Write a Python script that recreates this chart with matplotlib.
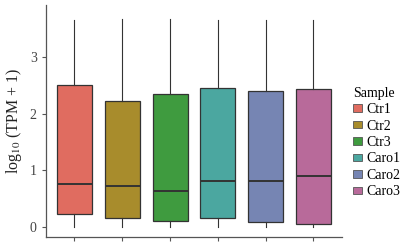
import matplotlib.pyplot as plt
from matplotlib.patches import Patch

plt.rcParams["font.family"] = ["Liberation Serif", "DejaVu Serif"]
plt.rcParams["mathtext.fontset"] = "stix"

samples = ["Ctr1", "Ctr2", "Ctr3", "Caro1", "Caro2", "Caro3"]
colors = ["#E06C60", "#A88C2C", "#3F9B3F", "#4BA7A0", "#7685B3", "#B86A9A"]
q1 = [0.23, 0.15, 0.11, 0.15, 0.08, 0.05]
median = [0.76, 0.73, 0.64, 0.81, 0.81, 0.90]
q3 = [2.51, 2.23, 2.35, 2.46, 2.41, 2.45]
whislo = [0, 0, 0, 0, 0, 0]
whishi = [3.66, 3.68, 3.68, 3.67, 3.67, 3.67]

stats = []
for i in range(len(samples)):
    stats.append({"label": samples[i], "q1": q1[i], "med": median[i], "q3": q3[i],
                  "whislo": whislo[i], "whishi": whishi[i], "fliers": []})

fig = plt.figure(figsize=(4.02, 2.47), dpi=100)
ax = fig.add_axes([0.114, 0.040, 0.737, 0.94])

bp = ax.bxp(stats, positions=range(1, 7), widths=0.73, patch_artist=True,
            showcaps=False,
            boxprops=dict(edgecolor="#333333", linewidth=0.9),
            medianprops=dict(color="#333333", linewidth=1.4),
            whiskerprops=dict(color="#333333", linewidth=0.8))
for patch, c in zip(bp["boxes"], colors):
    patch.set_facecolor(c)

ax.set_xlim(0.4, 6.6)
ax.set_ylim(-0.18, 3.93)
ax.set_xticks(range(1, 7))
ax.set_xticklabels([])
ax.set_yticks([0, 1, 2, 3])
ax.tick_params(colors="#555555", labelcolor="#444444", labelsize=10, length=3, width=0.8)
for s in ["top", "right"]:
    ax.spines[s].set_visible(False)
for s in ["left", "bottom"]:
    ax.spines[s].set_color("#555555")
    ax.spines[s].set_linewidth(0.9)

ax.set_ylabel("log$_{10}$ (TPM + 1)", fontsize=11.5, color="#222222")

handles = [Patch(facecolor=c, edgecolor="#555555", linewidth=0.6) for c in colors]
leg = fig.legend(handles, samples, title="Sample", loc="upper left",
                 bbox_to_anchor=(0.848, 0.70), frameon=False, fontsize=10,
                 title_fontsize=10, handlelength=0.6, handleheight=0.45,
                 handletextpad=0.35, labelspacing=0.25)
leg._legend_box.align = "left"

fig.savefig("out.png", dpi=100)
